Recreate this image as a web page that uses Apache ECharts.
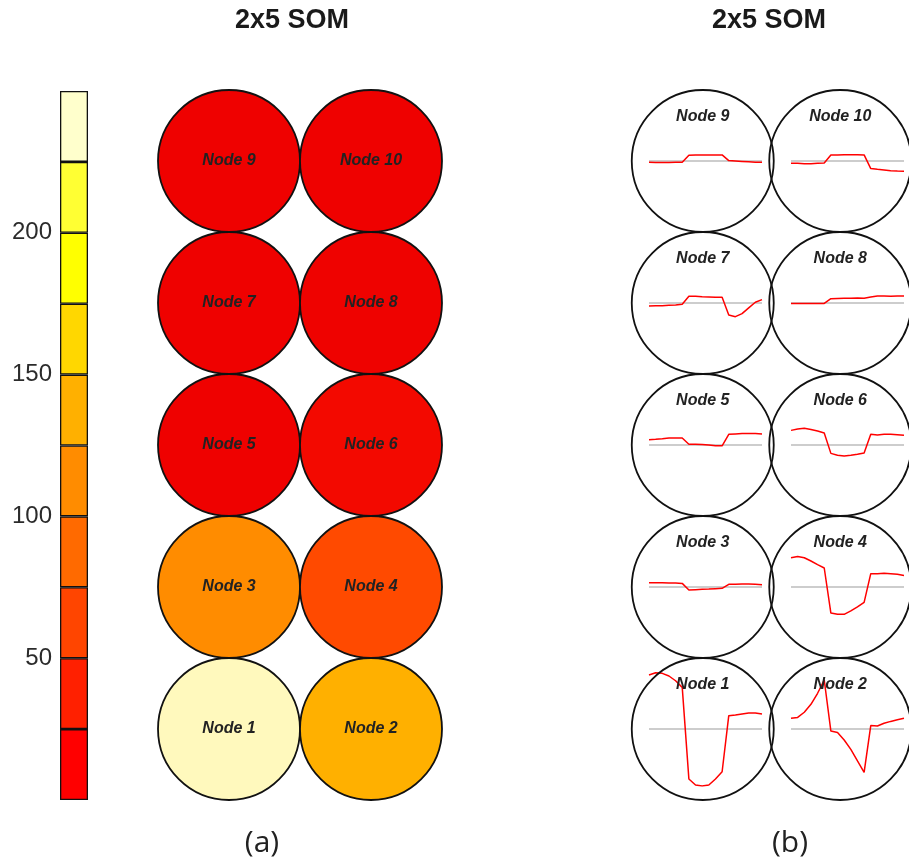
<!DOCTYPE html>
<html>
<head>
<meta charset="utf-8">
<script src="https://cdn.jsdelivr.net/npm/echarts@6/dist/echarts.min.js"></script>
<style>
  html, body { margin: 0; padding: 0; background: #fff; }
  #chart { width: 909px; height: 861px; }
</style>
</head>
<body>
<div id="chart"></div>
<script>
// Colour scale: 10 bands of 25 units from 0 to 250
const scaleBandSize = 25;
const scaleColors = ['#FF0000', '#FF2000', '#FF4500', '#FF6A00', '#FF8C00',
                     '#FFB000', '#FFD700', '#FFFF00', '#FFFF33', '#FFFFCC'];
const scaleTicks = [50, 100, 150, 200];

// Node hit counts (Node 1 .. Node 10)
const nodeNames = ['Node 1', 'Node 2', 'Node 3', 'Node 4', 'Node 5',
                   'Node 6', 'Node 7', 'Node 8', 'Node 9', 'Node 10'];
const nodeCounts = [248, 139, 111, 59, 1, 8, 1, 2, 1, 1];

// Prototype profiles, 18 samples each (3 conditions x 6 time points)
const node1Profile  = [2.84, 2.96, 2.93, 2.79, 2.54, 2.19, -2.63, -2.95, -3.0, -2.95, -2.63, -2.25, 0.70, 0.74, 0.79, 0.84, 0.84, 0.79];
const node2Profile  = [0.56, 0.61, 0.88, 1.30, 1.88, 2.58, -0.11, -0.18, -0.58, -1.07, -1.68, -2.28, 0.18, 0.16, 0.30, 0.40, 0.49, 0.56];
const node3Profile  = [0.23, 0.23, 0.23, 0.21, 0.21, 0.19, -0.16, -0.14, -0.12, -0.11, -0.09, -0.07, 0.14, 0.14, 0.16, 0.16, 0.14, 0.12];
const node4Profile  = [1.54, 1.61, 1.54, 1.37, 1.18, 1.00, -1.37, -1.44, -1.44, -1.26, -1.05, -0.81, 0.70, 0.70, 0.72, 0.70, 0.67, 0.60];
const node5Profile  = [0.28, 0.30, 0.33, 0.37, 0.37, 0.37, 0.04, 0.04, 0.02, 0.00, -0.04, -0.04, 0.56, 0.58, 0.60, 0.61, 0.60, 0.58];
const node6Profile  = [0.77, 0.84, 0.88, 0.82, 0.74, 0.63, -0.44, -0.54, -0.58, -0.54, -0.49, -0.42, 0.56, 0.53, 0.56, 0.56, 0.54, 0.51];
const node7Profile  = [-0.16, -0.15, -0.14, -0.12, -0.10, -0.07, 0.35, 0.35, 0.33, 0.32, 0.30, 0.30, -0.63, -0.72, -0.56, -0.26, 0.04, 0.18];
const node8Profile  = [-0.02, -0.02, -0.02, -0.02, -0.02, -0.02, 0.23, 0.24, 0.25, 0.25, 0.26, 0.25, 0.31, 0.37, 0.37, 0.36, 0.37, 0.37];
const node9Profile  = [-0.07, -0.08, -0.08, -0.08, -0.07, -0.07, 0.30, 0.31, 0.31, 0.32, 0.32, 0.32, 0.02, 0.00, -0.02, -0.04, -0.06, -0.07];
const node10Profile = [-0.12, -0.12, -0.14, -0.14, -0.12, -0.11, 0.32, 0.32, 0.33, 0.33, 0.33, 0.32, -0.40, -0.44, -0.47, -0.51, -0.53, -0.54];
const nodeProfiles = [node1Profile, node2Profile, node3Profile, node4Profile, node5Profile,
                      node6Profile, node7Profile, node8Profile, node9Profile, node10Profile];

const panelTitle = '2x5 SOM';
const panelTags = ['(a)', '(b)'];

// ---- layout ----
const CELL = 142;               // circle diameter / grid pitch
const MAP_TOP = 90;
const MAP_A_LEFT = 158;
const MAP_B_LEFT = 634;
const COLS = 2, ROWS = 5;
const FONT = '"Liberation Sans", Arial, Helvetica, sans-serif';

const chart = echarts.init(document.getElementById('chart'), null, { renderer: 'canvas' });

const grids = [], xAxes = [], yAxes = [], series = [];

// Colour bar
grids.push({ left: 60, top: 91, width: 28, height: 709, containLabel: false });
xAxes.push({ type: 'category', gridIndex: 0, data: ['scale'], show: false });
yAxes.push({
  type: 'value', gridIndex: 0, min: 0, max: scaleBandSize * scaleColors.length, interval: 50,
  axisLine: { show: false }, axisTick: { show: false }, splitLine: { show: false },
  axisLabel: {
    margin: 8, fontSize: 24, color: '#2b2b2b', fontFamily: FONT,
    formatter: v => (scaleTicks.indexOf(v) >= 0 ? String(v) : '')
  }
});
scaleColors.forEach((c, i) => {
  series.push({
    type: 'bar', xAxisIndex: 0, yAxisIndex: 0, stack: 'scale',
    barWidth: '100%', data: [scaleBandSize], silent: true,
    itemStyle: { color: c, borderColor: '#111', borderWidth: 1.3 }
  });
});

// Hit-count map (panel a) and prototype map (panel b)
function mapAxes(left) {
  grids.push({ left: left, top: MAP_TOP, width: CELL * COLS, height: CELL * ROWS });
  const gi = grids.length - 1;
  xAxes.push({ type: 'value', gridIndex: gi, min: 0.5, max: COLS + 0.5, show: false });
  yAxes.push({ type: 'value', gridIndex: gi, min: 0.5, max: ROWS + 0.5, show: false });
  return gi;
}
const nodeLabel = { fontFamily: FONT, fontSize: 16, fontWeight: 'bold', fontStyle: 'italic', color: '#222' };

const gA = mapAxes(MAP_A_LEFT);
series.push({
  type: 'scatter', xAxisIndex: gA, yAxisIndex: gA, symbol: 'circle', symbolSize: CELL,
  data: nodeNames.map((n, i) => ({ name: n, value: [i % COLS + 1, Math.floor(i / COLS) + 1, nodeCounts[i]] })),
  itemStyle: { borderColor: '#111', borderWidth: 1.8, opacity: 1 },
  label: Object.assign({ show: true, position: 'inside', formatter: '{b}' }, nodeLabel),
  emphasis: { disabled: true }, silent: true, z: 2
});
const nodeSeriesIndex = series.length - 1;

const gB = mapAxes(MAP_B_LEFT);
series.push({
  type: 'scatter', xAxisIndex: gB, yAxisIndex: gB, symbol: 'circle', symbolSize: CELL,
  data: nodeNames.map((n, i) => ({ name: n, value: [i % COLS + 1, Math.floor(i / COLS) + 1] })),
  itemStyle: { color: 'rgba(255,255,255,0)', borderColor: '#111', borderWidth: 1.8, opacity: 1 },
  label: Object.assign({ show: true, position: 'inside', offset: [0, -44], formatter: '{b}' }, nodeLabel),
  emphasis: { disabled: true }, silent: true, z: 6
});

// Small profile plots inside each prototype circle
nodeProfiles.forEach((profile, i) => {
  const col = i % COLS, row = Math.floor(i / COLS);
  const cx = MAP_B_LEFT + CELL * (col + 0.5);
  const cy = MAP_TOP + CELL * (ROWS - row - 0.5);
  grids.push({ left: cx - 56, top: cy - 57, width: 113, height: 114 });
  const gi = grids.length - 1;
  xAxes.push({ type: 'value', gridIndex: gi, min: 0, max: profile.length - 1, show: false });
  yAxes.push({ type: 'value', gridIndex: gi, min: -3, max: 3, show: false });
  series.push({
    type: 'line', xAxisIndex: gi, yAxisIndex: gi, showSymbol: false, silent: true,
    data: profile.map((_, k) => [k, 0]),
    lineStyle: { color: '#BDBDBD', width: 1.5 }, z: 3
  });
  series.push({
    type: 'line', xAxisIndex: gi, yAxisIndex: gi, showSymbol: false, silent: true,
    data: profile.map((v, k) => [k, v]),
    lineStyle: { color: '#FF0000', width: 1.5 }, z: 4
  });
});

const titleFont = 'bold 27px ' + FONT;
const tagFont = '30px "Open Sans", sans-serif';

const option = {
  backgroundColor: '#fff',
  animation: false,
  grid: grids,
  xAxis: xAxes,
  yAxis: yAxes,
  visualMap: [{
    type: 'continuous', show: false, seriesIndex: nodeSeriesIndex, dimension: 2,
    min: 0, max: scaleBandSize * scaleColors.length,
    inRange: { color: ['#EE0000', '#FF2000', '#FF4500', '#FF6A00', '#FF8C00',
                       '#FFB000', '#FFD700', '#FFFF00', '#FFFF33', '#FFF8C8'] }
  }],
  graphic: [
    { type: 'text', silent: true,
      style: { text: panelTitle, x: 292, y: 21, textAlign: 'center', textVerticalAlign: 'middle',
               fill: '#1a1a1a', font: titleFont } },
    { type: 'text', silent: true,
      style: { text: panelTitle, x: 769, y: 21, textAlign: 'center', textVerticalAlign: 'middle',
               fill: '#1a1a1a', font: titleFont } },
    { type: 'text', silent: true,
      style: { text: panelTags[0], x: 262, y: 843, textAlign: 'center', textVerticalAlign: 'middle',
               fill: '#222', font: tagFont } },
    { type: 'text', silent: true,
      style: { text: panelTags[1], x: 790, y: 843, textAlign: 'center', textVerticalAlign: 'middle',
               fill: '#222', font: tagFont } }
  ],
  series: series
};

chart.setOption(option);
</script>
</body>
</html>
